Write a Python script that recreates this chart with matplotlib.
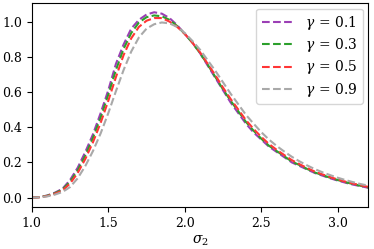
import numpy as np
import matplotlib
matplotlib.use("Agg")
import matplotlib.pyplot as plt

plt.rcParams['font.family'] = ['DejaVu Serif']
plt.rcParams['mathtext.fontset'] = 'dejavuserif'
plt.rcParams['font.size'] = 9

# sigma_2 grid
sigma2 = [1.00, 1.05, 1.10, 1.15, 1.20, 1.25, 1.30, 1.35, 1.40, 1.45,
          1.50, 1.55, 1.60, 1.65, 1.70, 1.75, 1.80, 1.85, 1.90, 1.95,
          2.00, 2.05, 2.10, 2.15, 2.20, 2.25, 2.30, 2.35, 2.40, 2.45,
          2.50, 2.55, 2.60, 2.65, 2.70, 2.75, 2.80, 2.85, 2.90, 2.95,
          3.00, 3.05, 3.10, 3.15, 3.20]

gamma_01 = [0.000, 0.003, 0.012, 0.028, 0.050, 0.100, 0.170, 0.260, 0.360, 0.480,
            0.610, 0.760, 0.870, 0.960, 1.010, 1.040, 1.053, 1.045, 1.020, 0.980,
            0.930, 0.880, 0.820, 0.750, 0.680, 0.610, 0.540, 0.480, 0.420, 0.370,
            0.330, 0.290, 0.260, 0.230, 0.200, 0.180, 0.160, 0.140, 0.125, 0.110,
            0.097, 0.085, 0.074, 0.065, 0.056]

gamma_03 = [0.000, 0.003, 0.011, 0.025, 0.046, 0.090, 0.155, 0.240, 0.340, 0.455,
            0.585, 0.725, 0.845, 0.935, 0.995, 1.025, 1.035, 1.030, 1.010, 0.975,
            0.930, 0.880, 0.820, 0.755, 0.685, 0.615, 0.550, 0.490, 0.430, 0.380,
            0.335, 0.295, 0.265, 0.235, 0.205, 0.185, 0.163, 0.143, 0.128, 0.113,
            0.100, 0.088, 0.077, 0.067, 0.058]

gamma_05 = [0.000, 0.002, 0.009, 0.022, 0.040, 0.080, 0.140, 0.220, 0.315, 0.425,
            0.550, 0.685, 0.810, 0.905, 0.970, 1.005, 1.020, 1.020, 1.000, 0.970,
            0.930, 0.880, 0.825, 0.760, 0.695, 0.625, 0.560, 0.500, 0.440, 0.390,
            0.345, 0.305, 0.272, 0.242, 0.213, 0.190, 0.168, 0.148, 0.132, 0.117,
            0.103, 0.091, 0.080, 0.070, 0.061]

gamma_09 = [0.000, 0.002, 0.007, 0.017, 0.032, 0.060, 0.110, 0.180, 0.265, 0.365,
            0.480, 0.605, 0.725, 0.830, 0.910, 0.960, 0.985, 0.995, 0.990, 0.970,
            0.935, 0.890, 0.840, 0.780, 0.720, 0.655, 0.590, 0.530, 0.470, 0.420,
            0.372, 0.330, 0.294, 0.262, 0.232, 0.206, 0.183, 0.162, 0.144, 0.128,
            0.113, 0.100, 0.088, 0.077, 0.068]

labels = [r'$\gamma\,=\,0.1$', r'$\gamma\,=\,0.3$', r'$\gamma\,=\,0.5$', r'$\gamma\,=\,0.9$']
colors = ['#9b3fb5', '#2ca02c', '#ff3535', '#a9a9a9']

fig = plt.figure(figsize=(3.74, 2.49), dpi=100)
ax = fig.add_axes([0.085, 0.169, 0.9, 0.819])

for ys, lab, c in zip([gamma_01, gamma_03, gamma_05, gamma_09], labels, colors):
    ax.plot(sigma2, ys, linestyle='--', color=c, linewidth=1.5, label=lab)

ax.set_xlim(1.0, 3.2)
ax.set_xticks([1.0, 1.5, 2.0, 2.5, 3.0])
ax.set_yticks([0.0, 0.2, 0.4, 0.6, 0.8, 1.0])
ax.set_xlabel(r'$\sigma_2$', fontsize=10, labelpad=3)
ax.legend(loc='upper right', fontsize=10, handlelength=2.2, handletextpad=0.9,
          labelspacing=0.3, borderaxespad=0.4)

fig.savefig('out.png', dpi=100)
